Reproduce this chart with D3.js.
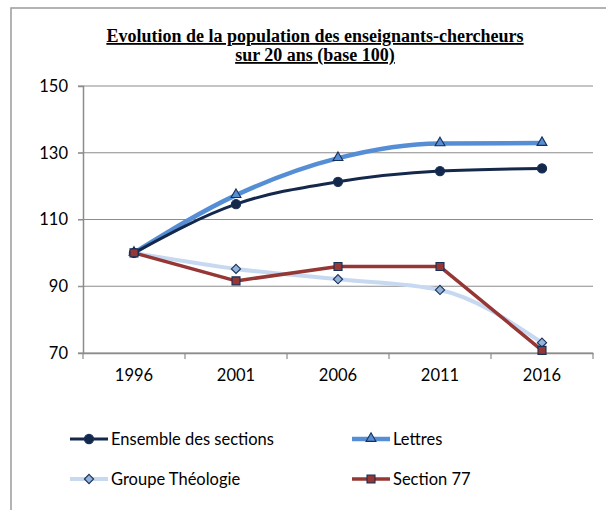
<!DOCTYPE html>
<html>
<head>
<meta charset="utf-8">
<script src="https://cdn.jsdelivr.net/npm/d3@7"></script>
<style>
  body { margin: 0; background: #fff; }
  svg { display: block; }
</style>
</head>
<body>
<div id="chart"></div>
<script>
// data
const years = ['1996', '2001', '2006', '2011', '2016']
const ensemble = [100, 114.6, 121.3, 124.5, 125.3]
const lettres = [100, 117.3, 128.4, 132.8, 132.9]
const theologie = [100, 95.2, 92.1, 88.9, 73.1]
const section77 = [100, 91.6, 95.9, 95.9, 70.8]
const yTicks = [70, 90, 110, 130, 150]

const series = [
  { name: 'Ensemble des sections', values: ensemble, color: '#14284b', width: 3, marker: 'circle', fill: '#14284b', smooth: true },
  { name: 'Lettres', values: lettres, color: '#558ed5', width: 4.5, marker: 'triangle', fill: '#558ed5', smooth: true },
  { name: 'Groupe Théologie', values: theologie, color: '#c6d9f1', width: 4, marker: 'diamond', fill: '#95b3d7', smooth: true },
  { name: 'Section 77', values: section77, color: '#953735', width: 3.5, marker: 'square', fill: '#953735', smooth: false }
]

const W = 606
const H = 510
const svg = d3.select('#chart').append('svg')
  .attr('width', W)
  .attr('height', H)

// outer frame (runs past the right and bottom edges)
svg.append('rect')
  .attr('x', 11).attr('y', 8)
  .attr('width', 700).attr('height', 600)
  .attr('fill', 'none')
  .attr('stroke', '#9a9a9a')
  .attr('stroke-width', 1.5)

// title
const title = svg.append('text')
  .attr('text-anchor', 'middle')
  .style('font-family', '"Liberation Serif", "Times New Roman", serif')
  .style('font-weight', 'bold')
  .style('font-size', '18px')
  .style('text-decoration', 'underline')
title.append('tspan').attr('x', 315).attr('y', 42).text('Evolution de la population des enseignants-chercheurs')
title.append('tspan').attr('x', 315).attr('y', 61).text('sur 20 ans (base 100)')

const x = d3.scaleBand().domain(years).range([83, 593])
const y = d3.scaleLinear().domain([70, 150]).range([353, 86])
const cx = d => x(d) + x.bandwidth() / 2

const labelFont = 'Lato, "Open Sans", sans-serif'
const labelSize = '16.5px'

// gridlines
svg.append('g')
  .selectAll('line')
  .data(yTicks)
  .enter()
  .append('line')
  .attr('x1', 78).attr('x2', 593)
  .attr('y1', d => y(d)).attr('y2', d => y(d))
  .attr('stroke', '#8c8c8c')
  .attr('stroke-width', 1.2)

// y axis
const yAxis = svg.append('g')
  .attr('transform', 'translate(83,0)')
  .call(d3.axisLeft(y).tickValues(yTicks).tickSize(5).tickPadding(10))
yAxis.select('.domain').attr('stroke', '#8c8c8c').attr('stroke-width', 1.5)
yAxis.selectAll('line').attr('stroke', '#8c8c8c')
yAxis.selectAll('text')
  .style('font-family', labelFont)
  .style('font-size', labelSize)
  .attr('fill', '#000')

// x axis with ticks between categories
const xAxis = svg.append('g')
  .attr('transform', 'translate(0,353)')
  .call(d3.axisBottom(x).tickSize(0).tickPadding(16))
xAxis.select('.domain').attr('stroke', '#8c8c8c').attr('stroke-width', 1.5)
xAxis.selectAll('text')
  .style('font-family', labelFont)
  .style('font-size', labelSize)
  .attr('fill', '#000')
xAxis.selectAll('.sep')
  .data(years.concat(['end']))
  .enter()
  .append('line')
  .attr('class', 'sep')
  .attr('x1', (d, i) => x.range()[0] + i * x.step())
  .attr('x2', (d, i) => x.range()[0] + i * x.step())
  .attr('y1', 0).attr('y2', 6)
  .attr('stroke', '#8c8c8c')
  .attr('stroke-width', 1.2)

function drawMarker (g, type, fill) {
  let m
  if (type === 'circle') {
    m = g.append('circle').attr('r', 4.6)
  } else if (type === 'diamond') {
    m = g.append('path').attr('d', 'M0,-4.6L4.6,0L0,4.6L-4.6,0Z')
  } else {
    const sym = { triangle: d3.symbolTriangle, square: d3.symbolSquare }[type]
    const area = { triangle: 42, square: 64 }[type]
    m = g.append('path').attr('d', d3.symbol().type(sym).size(area)())
    if (type === 'triangle') m.attr('transform', 'translate(0,-0.5)')
  }
  m.attr('fill', fill).attr('stroke', '#17305a').attr('stroke-width', 1.1)
  return m
}

// draw the series, Section 77 on top
const order = [2, 1, 0, 3]
order.forEach(function (k) {
  const s = series[k]
  const line = d3.line()
    .x((d, i) => cx(years[i]))
    .y(d => y(d))
    .curve(s.smooth ? d3.curveMonotoneX : d3.curveLinear)
  svg.append('path')
    .datum(s.values)
    .attr('d', line)
    .attr('fill', 'none')
    .attr('stroke', s.color)
    .attr('stroke-width', s.width)
    .attr('stroke-linejoin', 'round')
})
order.forEach(function (k) {
  const s = series[k]
  s.values.forEach(function (v, i) {
    const g = svg.append('g').attr('transform', 'translate(' + cx(years[i]) + ',' + y(v) + ')')
    drawMarker(g, s.marker, s.fill)
  })
})

// legend
const legendPos = [[70, 439], [352, 439], [70, 479], [352, 479]]
series.forEach(function (s, i) {
  const p = legendPos[i]
  const g = svg.append('g').attr('transform', 'translate(' + p[0] + ',' + p[1] + ')')
  g.append('line')
    .attr('x1', 0).attr('x2', 38)
    .attr('y1', 0).attr('y2', 0)
    .attr('stroke', s.color)
    .attr('stroke-width', s.width)
  const mg = g.append('g').attr('transform', 'translate(19,0)')
  drawMarker(mg, s.marker, s.fill)
  g.append('text')
    .attr('x', 41).attr('y', 6)
    .style('font-family', labelFont)
    .style('font-size', labelSize)
    .text(s.name)
})
</script>
</body>
</html>
